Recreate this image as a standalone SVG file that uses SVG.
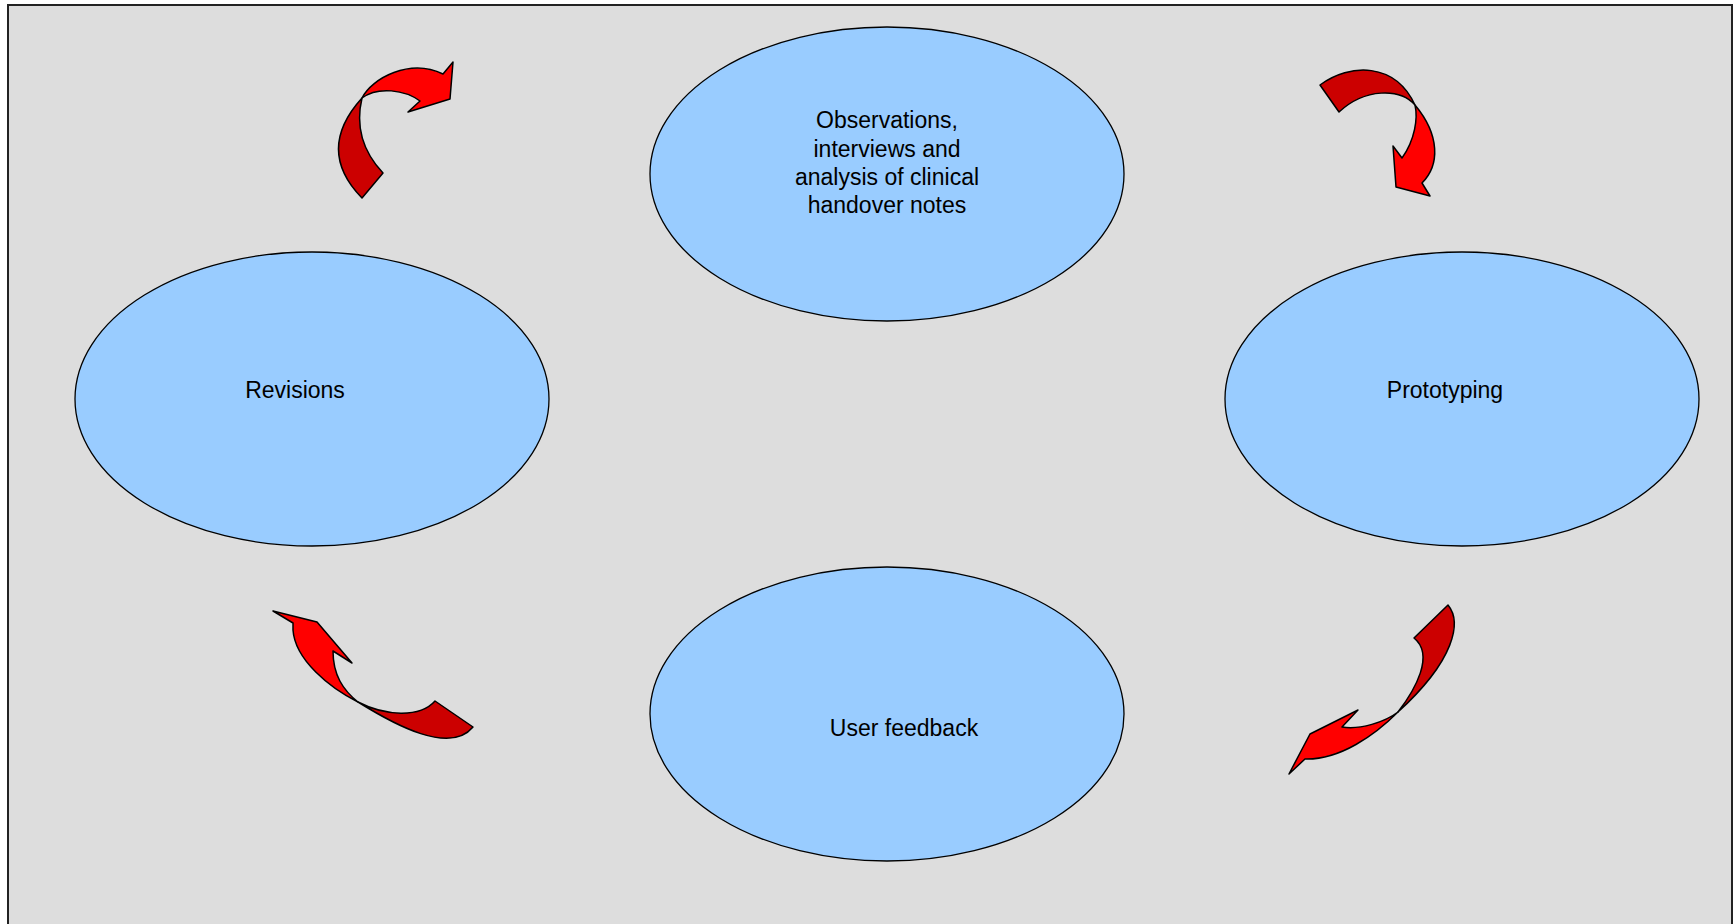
<svg xmlns="http://www.w3.org/2000/svg" width="1736" height="924" viewBox="0 0 1736 924">
<style>
.node{fill:#99CCFF;stroke:#000;stroke-width:1.3}
.lbl{font-family:"Liberation Sans",Arial,sans-serif;font-size:23px;fill:#000;text-anchor:middle}
.lt{fill:#FF0000;stroke:#000;stroke-width:1.5;stroke-linejoin:round}
.dk{fill:#CC0000;stroke:#000;stroke-width:1.5;stroke-linejoin:round}
</style>
<rect x="0" y="0" width="1736" height="924" fill="#FFFFFF"/>
<rect x="8" y="5" width="1724" height="930" fill="#DDDDDD" stroke="#222" stroke-width="2"/>
<g id="node-observations">
<ellipse class="node" cx="887" cy="174" rx="237" ry="147"/>
<text class="lbl" x="887" y="128">Observations,</text>
<text class="lbl" x="887" y="157">interviews and</text>
<text class="lbl" x="887" y="185">analysis of clinical</text>
<text class="lbl" x="887" y="213">handover notes</text>
</g>
<g id="node-revisions">
<ellipse class="node" cx="312" cy="399" rx="237" ry="147"/>
<text class="lbl" x="295" y="398">Revisions</text>
</g>
<g id="node-prototyping">
<ellipse class="node" cx="1462" cy="399" rx="237" ry="147"/>
<text class="lbl" x="1445" y="398">Prototyping</text>
</g>
<g id="node-feedback">
<ellipse class="node" cx="887" cy="714" rx="237" ry="147"/>
<text class="lbl" x="904" y="736">User feedback</text>
</g>
<g id="connectors">
<g id="arrow-tl">
<path class="dk" d="M362,198 Q315,150 362,98 Q352,140 383,173 Z"/>
<path class="lt" d="M362,98 C372,78 410,58 443,74 L453,62 L450,99 L408,112 L420,101 C405,90 378,86 362,98 Z"/>
</g>
<g id="arrow-tr">
<path class="dk" d="M1320,85 C1350,63 1395,62 1415,105 C1400,88 1365,88 1339,112 Z"/>
<path class="lt" d="M1415,105 C1440,135 1440,165 1422,183 L1430,196 L1396,187 L1393,146 L1402,158 C1415,140 1418,118 1415,105 Z"/>
</g>
<g id="arrow-br">
<path class="dk" d="M1448,605 C1462,622 1455,660 1398,712 C1415,690 1435,655 1414,638 Z"/>
<path class="lt" d="M1398,712 C1375,735 1340,760 1305,759 L1289,774 L1310,734 L1358,710 L1342,727 C1360,730 1385,722 1398,712 Z"/>
</g>
<g id="arrow-bl">
<path class="dk" d="M358,702 C395,725 450,755 473,727 L435,701 C420,718 385,716 358,702 Z"/>
<path class="lt" d="M273,611 L317,622 L352,663 L333,651 C333,675 343,690 358,702 C330,688 295,660 293,630 L293,623 Z"/>
</g>
</g>
</svg>
